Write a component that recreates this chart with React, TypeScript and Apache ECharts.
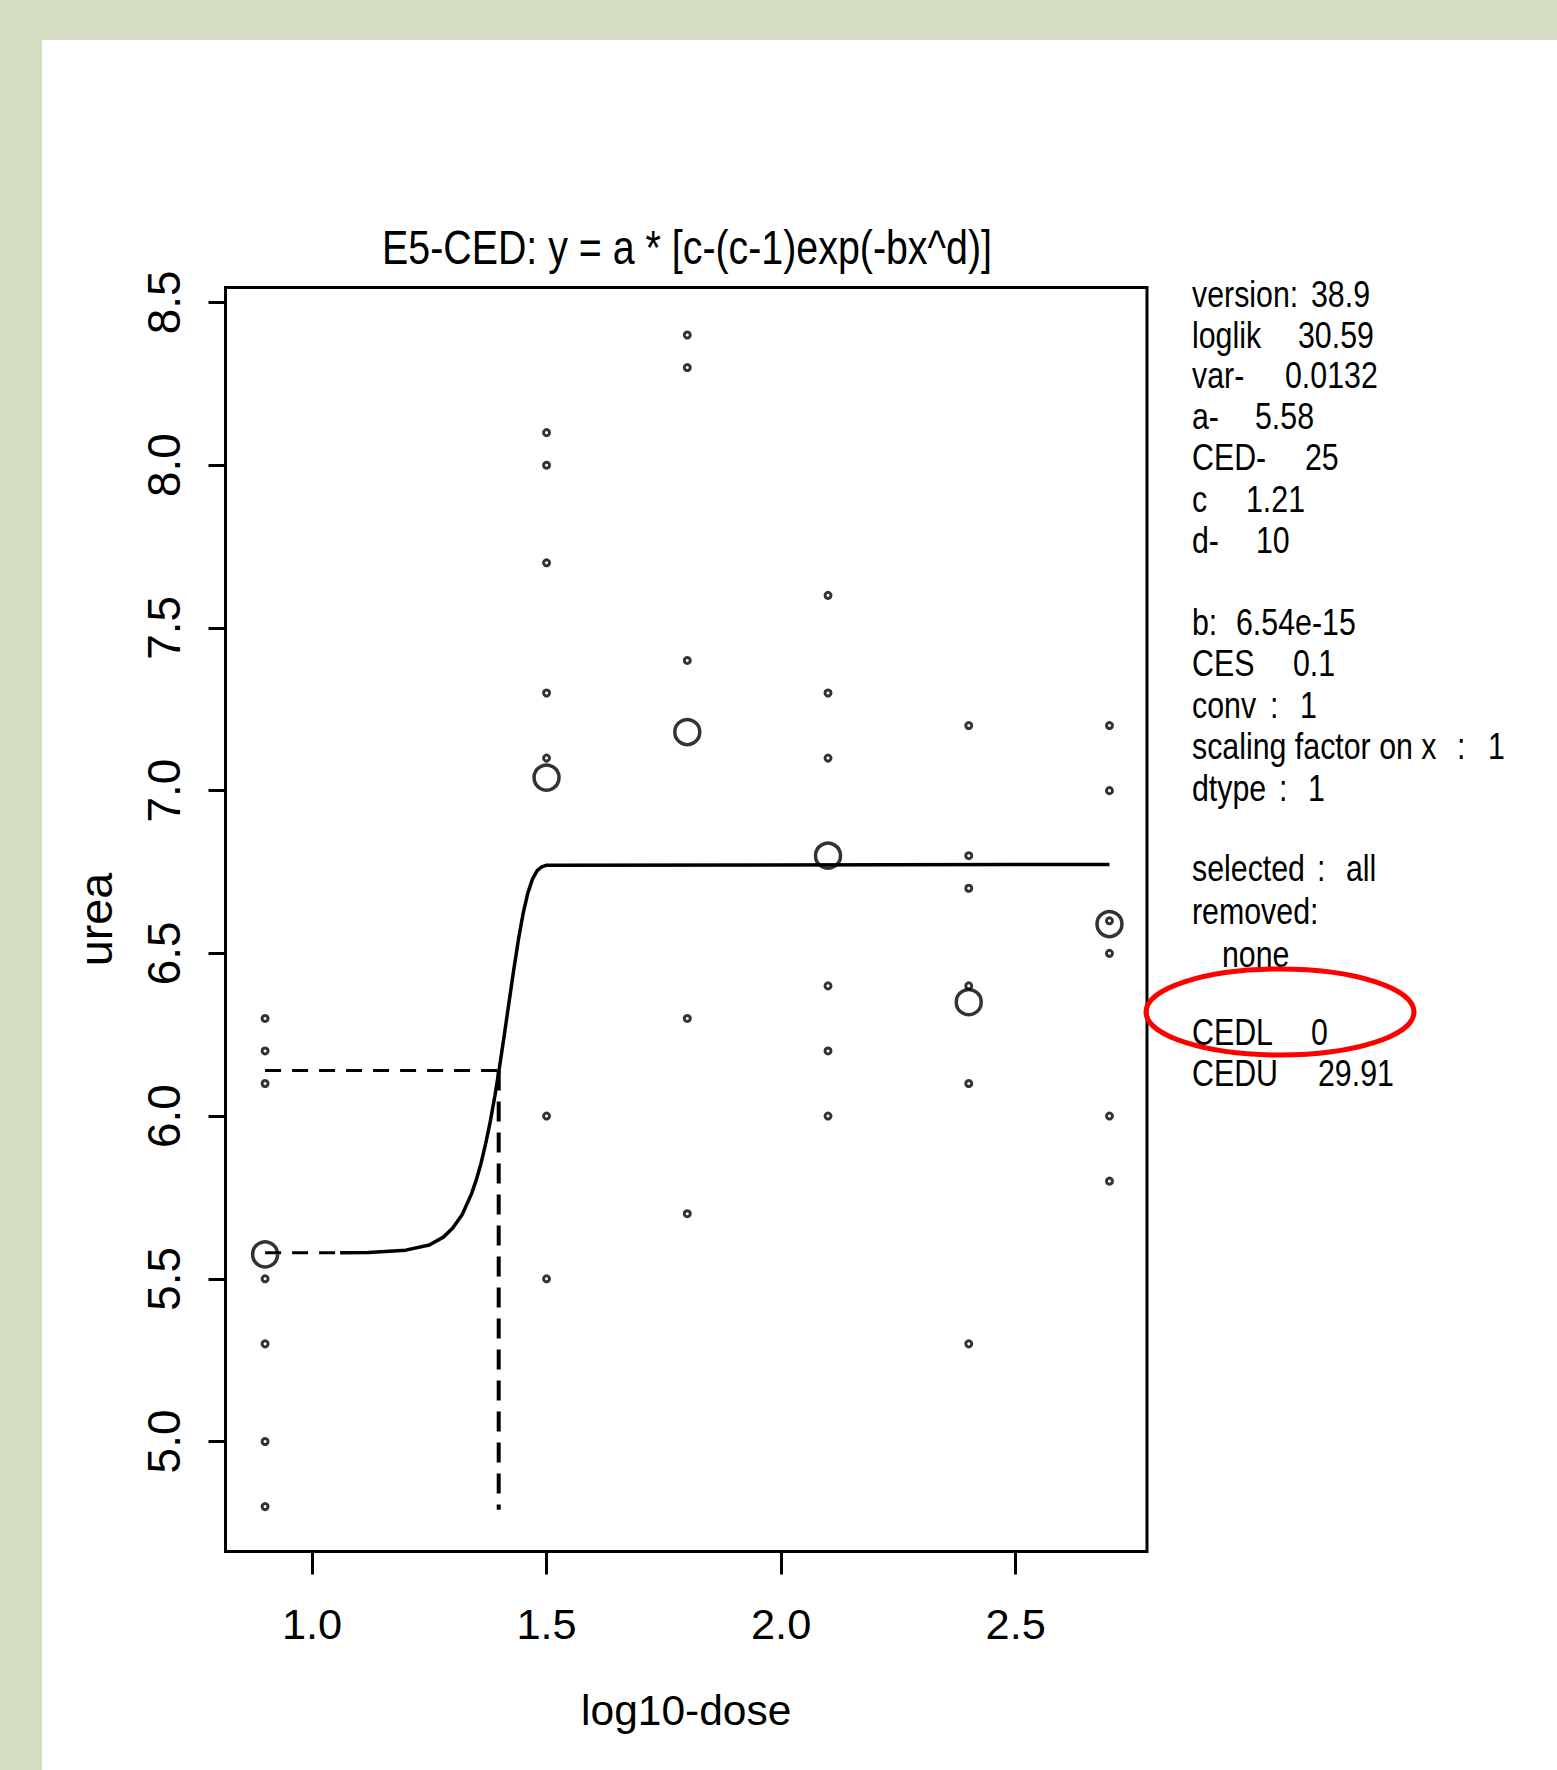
import React, { useEffect, useRef } from 'react';
import * as echarts from 'echarts';

// ---- data ----
const X_TICKS = [1.0, 1.5, 2.0, 2.5];
const Y_TICKS = [5.0, 5.5, 6.0, 6.5, 7.0, 7.5, 8.0, 8.5];

const DOSE_GROUPS = [0.9, 1.5, 1.8, 2.1, 2.4, 2.7];
const OBS_G1 = [6.3, 6.2, 6.1, 5.5, 5.3, 5.0, 4.8];
const OBS_G2 = [8.1, 8.0, 7.7, 7.3, 7.1, 6.0, 5.5];
const OBS_G3 = [8.4, 8.3, 7.4, 6.3, 5.7];
const OBS_G4 = [7.6, 7.3, 7.1, 6.4, 6.2, 6.0];
const OBS_G5 = [7.2, 6.8, 6.7, 6.4, 6.1, 5.3];
const OBS_G6 = [7.2, 7.0, 6.6, 6.5, 6.0, 5.8];
const OBSERVATIONS = [OBS_G1, OBS_G2, OBS_G3, OBS_G4, OBS_G5, OBS_G6];
const GROUP_MEANS = [5.575, 7.04, 7.18, 6.8, 6.35, 6.59];

const CURVE_X = [1.06, 1.12, 1.2, 1.25, 1.28, 1.3, 1.32, 1.34, 1.35, 1.36, 1.37, 1.38, 1.39, 1.4, 1.41, 1.42, 1.43, 1.44, 1.45, 1.46, 1.47, 1.48, 1.49, 1.5, 2.7];
const CURVE_Y = [5.58, 5.581, 5.588, 5.604, 5.628, 5.656, 5.697, 5.761, 5.803, 5.853, 5.914, 5.983, 6.063, 6.153, 6.25, 6.35, 6.449, 6.542, 6.622, 6.685, 6.728, 6.754, 6.766, 6.771, 6.773];

const CED_LOG = 1.398;
const CED_LEVEL = 6.14;
const BACKGROUND_LEVEL = 5.58;
const DASH_START = 0.9;
const DROP_TO = 4.79;

const TITLE = 'E5-CED: y = a * [c-(c-1)exp(-bx^d)]';
const X_NAME = 'log10-dose';
const Y_NAME = 'urea';

const INFO_LINES: [string, number][][] = [
  [['version:', 1192], ['38.9', 1311]],
  [['loglik', 1192], ['30.59', 1298]],
  [['var-', 1192], ['0.0132', 1285]],
  [['a-', 1192], ['5.58', 1255]],
  [['CED-', 1192], ['25', 1305]],
  [['c', 1192], ['1.21', 1246]],
  [['d-', 1192], ['10', 1256]],
  [['b:', 1192], ['6.54e-15', 1236]],
  [['CES', 1192], ['0.1', 1293]],
  [['conv', 1192], [':', 1270], ['1', 1300]],
  [['scaling factor on x', 1192], [':', 1457], ['1', 1488]],
  [['dtype', 1192], [':', 1279], ['1', 1308]],
  [['selected', 1192], [':', 1317], ['all', 1346]],
  [['removed:', 1192]],
  [['none', 1222]],
  [['CEDL', 1192], ['0', 1311]],
  [['CEDU', 1192], ['29.91', 1318]],
];
const INFO_Y = [294, 335, 375, 416, 457, 499, 540, 622, 663, 705, 746, 788, 868, 911, 954, 1032, 1073];

function hasFont(name: string): boolean {
  const ctx = document.createElement('canvas').getContext('2d');
  if (!ctx) return false;
  const s = 'mmmmmmmmlli1.0WWabc';
  const out: boolean[] = [];
  for (const base of ['monospace', 'serif']) {
    ctx.font = `50px ${base}`;
    const w1 = ctx.measureText(s).width;
    ctx.font = `50px '${name}', ${base}`;
    const w2 = ctx.measureText(s).width;
    out.push(w1 !== w2);
  }
  return out[0] || out[1];
}

export default function App() {
  const ref = useRef<HTMLDivElement>(null);
  useEffect(() => {
    if (!ref.current) return;
    const narrow = hasFont('Liberation Sans Narrow');
    const FONT = narrow ? "'Liberation Sans Narrow', 'Arial Narrow', sans-serif" : "'Liberation Sans', Arial, sans-serif";
    const sx = narrow ? 1 : 0.82;
    const k = narrow ? 1 : 0.85;

    const chart = echarts.init(ref.current, null, { renderer: 'svg' });

    const obsData: number[][] = [];
    OBSERVATIONS.forEach((vals, i) => vals.forEach(v => obsData.push([DOSE_GROUPS[i], v])));
    const meanData = GROUP_MEANS.map((v, i) => [DOSE_GROUPS[i], v]);
    const curveData = CURVE_X.map((x, i) => [x, CURVE_Y[i]]);

    const texts: any[] = [];
    texts.push({
      type: 'text', x: 687, y: 247, scaleX: sx, z: 50,
      style: { text: TITLE, fontSize: 48, fontFamily: FONT, fill: '#000', align: 'center', textAlign: 'center', verticalAlign: 'middle', textVerticalAlign: 'middle' },
    });
    INFO_LINES.forEach((line, i) => {
      line.forEach(([t, x]) => {
        texts.push({
          type: 'text', x, y: INFO_Y[i], scaleX: sx, z: 50,
          style: { text: t, fontSize: 37, fontFamily: FONT, fill: '#000', align: 'left', textAlign: 'left', verticalAlign: 'middle', textVerticalAlign: 'middle' },
        });
      });
    });
    texts.push({
      type: 'ellipse', z: 60,
      shape: { cx: 1280, cy: 1012, rx: 134, ry: 43 },
      style: { fill: 'none', stroke: '#ff0000', lineWidth: 5 },
    });

    const dashed = (data: number[][], dash: number[], width: number) => ({
      type: 'line', data, showSymbol: false, symbol: 'none', silent: true, z: 3,
      lineStyle: { color: '#000', width, type: dash },
    });

    const option: any = {
      animation: false,
      backgroundColor: 'transparent',
      grid: {
        left: 225.5, top: 287.5, width: 921.5, height: 1264,
        show: true, borderColor: '#000', borderWidth: 3, backgroundColor: 'transparent',
        containLabel: false, outerBoundsMode: 'none',
      },
      xAxis: {
        type: 'value', min: 0.8156, max: 2.78,
        axisLine: { show: false }, splitLine: { show: false },
        axisTick: { show: true, inside: false, length: 23, lineStyle: { color: '#000', width: 3 }, customValues: X_TICKS },
        axisLabel: {
          show: true, customValues: X_TICKS, formatter: (v: number) => v.toFixed(1),
          fontSize: 51 * k, fontFamily: FONT, color: '#000', margin: 51,
        },
        name: X_NAME, nameLocation: 'middle', nameGap: 137,
        nameTextStyle: { fontSize: 50 * k, fontFamily: FONT, color: '#000' },
      },
      yAxis: {
        type: 'value', min: 4.662, max: 8.546,
        axisLine: { show: false }, splitLine: { show: false },
        axisTick: { show: true, inside: false, length: 17, lineStyle: { color: '#000', width: 3 }, customValues: Y_TICKS },
        axisLabel: {
          show: true, customValues: Y_TICKS, formatter: (v: number) => v.toFixed(1), rotate: 90,
          fontSize: 54 * k, fontFamily: FONT, color: '#000', margin: 39,
        },
        name: Y_NAME, nameLocation: 'middle', nameGap: 106, nameRotate: 90,
        nameTextStyle: { fontSize: 55 * k, fontFamily: FONT, color: '#000' },
      },
      graphic: { elements: texts },
      series: [
        {
          type: 'scatter', data: obsData, symbol: 'circle', symbolSize: 6, z: 4,
          itemStyle: { color: 'rgba(0,0,0,0)', borderColor: '#000', borderWidth: 3 },
        },
        {
          type: 'scatter', data: meanData, symbol: 'circle', symbolSize: 25, z: 4,
          itemStyle: { color: 'rgba(0,0,0,0)', borderColor: '#000', borderWidth: 3.5 },
        },
        {
          type: 'line', data: curveData, showSymbol: false, symbol: 'none', z: 3,
          lineStyle: { color: '#000', width: 3.5, type: 'solid' },
        },
        dashed([[DASH_START, BACKGROUND_LEVEL], [CURVE_X[0], BACKGROUND_LEVEL]], [16, 11], 3),
        dashed([[DASH_START, CED_LEVEL], [CED_LOG, CED_LEVEL]], [16, 11], 3),
        dashed([[CED_LOG, CED_LEVEL], [CED_LOG, DROP_TO]], [20, 11], 4),
      ],
    };
    chart.setOption(option);
    return () => chart.dispose();
  }, []);

  return (
    <div style={{ position: 'absolute', left: 0, top: 0, width: 1557, height: 1770, background: '#d4dcc2', overflow: 'hidden' }}>
      <div style={{ position: 'absolute', left: 42, top: 40, right: 0, bottom: 0, background: '#ffffff' }} />
      <div ref={ref} style={{ position: 'absolute', left: 0, top: 0, width: 1557, height: 1770 }} />
    </div>
  );
}
